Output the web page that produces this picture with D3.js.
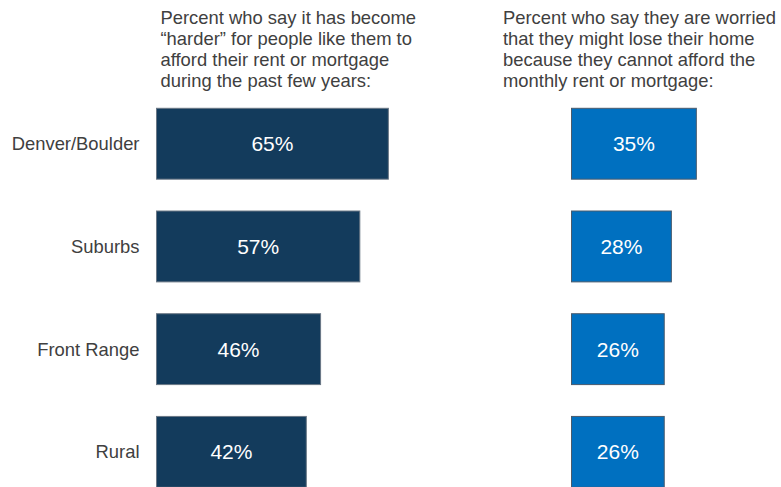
<!DOCTYPE html>
<html>
<head>
<meta charset="utf-8">
<script src="https://cdn.jsdelivr.net/npm/d3@7/dist/d3.min.js"></script>
<style>
  html, body { margin: 0; padding: 0; background: #fff; }
  svg { display: block; font-family: "Liberation Sans", Arial, sans-serif; }
</style>
</head>
<body>
<svg id="chart"></svg>
<script>
// data
const categories = ['Denver/Boulder', 'Suburbs', 'Front Range', 'Rural'];
const harderValues = [65, 57, 46, 42];
const worriedValues = [35, 28, 26, 26];
const harderTitle = ['Percent who say it has become', '\u201charder\u201d for people like them to',
  'afford their rent or mortgage', 'during the past few years:'];
const worriedTitle = ['Percent who say they are worried', 'that they might lose their home',
  'because they cannot afford the', 'monthly rent or mortgage:'];

const width = 781, height = 487;
const svg = d3.select('#chart').attr('width', width).attr('height', height);

const x = d3.scaleLinear().domain([0, 100]).range([0, 356.7]);
const y = d3.scaleBand().domain(categories).range([108.3, 487.3]).paddingInner(0.31).paddingOuter(0);

const panels = [
  { left: 156.5, titleX: 160.5, title: harderTitle, values: harderValues, color: '#133b5c', stroke: '#6a7785' },
  { left: 571.5, titleX: 503, title: worriedTitle, values: worriedValues, color: '#0070c0', stroke: '#4a5b6d' }
];

panels.forEach(p => {
  const g = svg.append('g');

  // titles
  g.append('text')
    .attr('x', p.titleX)
    .attr('y', 24)
    .attr('fill', '#404040')
    .style('font-size', '18.4px')
    .selectAll('tspan')
    .data(p.title)
    .enter()
    .append('tspan')
    .attr('x', p.titleX)
    .attr('dy', (d, i) => i === 0 ? 0 : 21)
    .text(d => d);

  const bars = g.selectAll('.bar')
    .data(categories.map((c, i) => ({ cat: c, value: p.values[i] })))
    .enter()
    .append('g')
    .attr('class', 'bar');

  bars.append('rect')
    .attr('x', p.left)
    .attr('y', d => y(d.cat))
    .attr('width', d => x(d.value))
    .attr('height', y.bandwidth())
    .attr('fill', p.color)
    .attr('stroke', p.stroke)
    .attr('stroke-width', 1);

  bars.append('text')
    .attr('x', d => p.left + x(d.value) / 2)
    .attr('y', d => y(d.cat) + y.bandwidth() / 2)
    .attr('dy', '.35em')
    .attr('text-anchor', 'middle')
    .attr('fill', '#fff')
    .style('font-size', '21px')
    .text(d => d.value + '%');
});

// category labels
svg.selectAll('.cat')
  .data(categories)
  .enter()
  .append('text')
  .attr('class', 'cat')
  .attr('x', 139.5)
  .attr('y', d => y(d) + y.bandwidth() / 2)
  .attr('dy', '.35em')
  .attr('text-anchor', 'end')
  .attr('fill', '#404040')
  .style('font-size', '18.4px')
  .text(d => d);
</script>
</body>
</html>
